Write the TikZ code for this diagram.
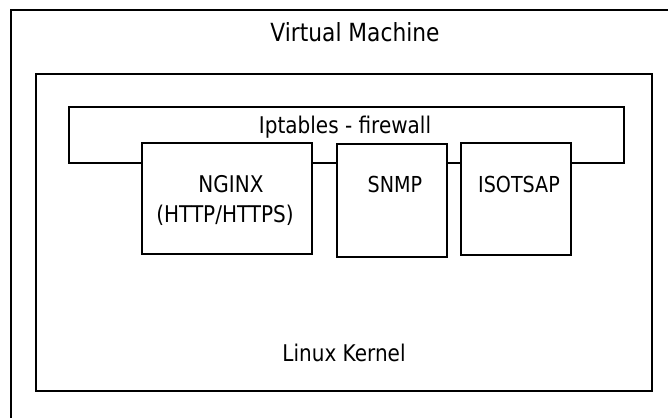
\documentclass[tikz,border=0pt]{standalone}
\usepackage{fontspec}
\setmainfont[FakeStretch=0.87]{DejaVu Sans}
\begin{document}
\begin{tikzpicture}[x=1pt,y=-1pt,
  box/.style={draw=black,line width=2pt},
  svc/.style={box,fill=white},
  lbl/.style={inner sep=0pt,anchor=base,font=\fontsize{23}{27}\selectfont}]
\useasboundingbox (0,0) rectangle (668,417);
\fill[white] (0,0) rectangle (668,417);
\clip (0,0) rectangle (668,417);
% outer virtual machine box (cut by the picture edge)
\draw[box] (11,440) -- (11,10) -- (700,10);
\node[lbl,font=\fontsize{25}{29}\selectfont] (vm) at (355,42) {Virtual Machine};
% linux kernel
\draw[box] (36,74) rectangle (652,391);
\node[lbl] (kernel) at (344,361) {Linux Kernel};
% iptables
\draw[box] (69,107) rectangle (624,163);
\node[lbl] (ipt) at (345,133) {Iptables - firewall};
% services
\draw[svc] (142,143) rectangle (312,254);
\draw[svc] (337,144) rectangle (447,257);
\draw[svc] (461,143) rectangle (571,255);
\node[lbl] (nginx) at (231,192) {NGINX};
\node[lbl] (http) at (225,222) {(HTTP/HTTPS)};
\node[lbl,font=\fontsize{22}{26}\selectfont] (snmp) at (395,192) {SNMP};
\node[lbl,font=\fontsize{22}{26}\selectfont] (iso) at (519,192) {ISOTSAP};
\end{tikzpicture}
\end{document}
